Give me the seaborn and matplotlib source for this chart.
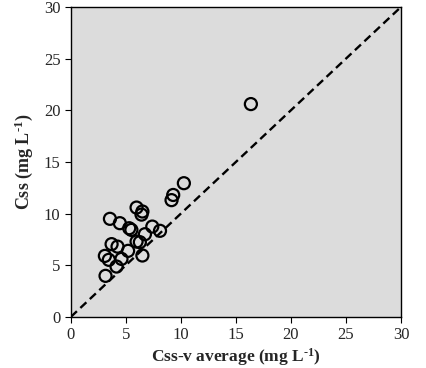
import pandas as pd
import matplotlib
matplotlib.use('Agg')
import matplotlib.pyplot as plt
import seaborn as sb

# Css-v average vs Css (mg/L)
css_v_avg = [16.36, 10.27, 9.3, 9.15, 5.97, 6.5, 6.42, 3.55, 4.45, 5.3, 5.5,
             7.4, 8.1, 6.73, 5.97, 6.27, 3.7, 4.24, 5.2, 3.09, 3.45, 4.6,
             6.5, 4.15, 3.15]
css = [20.6, 12.94, 11.8, 11.3, 10.58, 10.2, 9.9, 9.49, 9.07, 8.58, 8.42,
       8.74, 8.33, 8.0, 7.29, 7.23, 7.04, 6.8, 6.39, 5.9, 5.52, 5.61,
       5.94, 4.87, 3.97]
line_x = [0, 30]
line_y = [0, 30]
ticks = [0, 5, 10, 15, 20, 25, 30]

data = pd.DataFrame({'x': css_v_avg, 'y': css})
line = pd.DataFrame({'x': line_x, 'y': line_y})

sb.set_style("ticks")
plt.rcParams['font.family'] = ['Liberation Serif', 'DejaVu Serif']
plt.rcParams['mathtext.fontset'] = 'custom'
plt.rcParams['mathtext.rm'] = 'Liberation Serif'
plt.rcParams['mathtext.bf'] = 'Liberation Serif:bold'
plt.rcParams['mathtext.default'] = 'bf'

fig = plt.figure(figsize=(4.27, 3.68), dpi=100)
ax = fig.add_axes([0.166, 0.139, 0.773, 0.842])
ax.set_facecolor('#dcdcdc')

sb.lineplot(data=line, x='x', y='y', ax=ax, color='black', linestyle=(0, (3.5, 2)),
            linewidth=1.7)
sb.scatterplot(data=data, x='x', y='y', ax=ax, s=75, facecolor='none',
               edgecolor='black', linewidth=1.6)

ax.set_xlim(0, 30)
ax.set_ylim(0, 30)
ax.set_xticks(ticks)
ax.set_yticks(ticks)
ax.tick_params(axis='both', labelsize=12, direction='out', length=4,
               color='black', top=False, right=False)
for sp in ax.spines.values():
    sp.set_color('black')
    sp.set_linewidth(1.0)

ax.set_xlabel('Css-v average (mg L$^{\\text{-}1}$)', fontsize=12.5, fontweight='bold', labelpad=2)
ax.set_ylabel('Css (mg L$^{\\text{-}1}$)', fontsize=13, fontweight='bold', labelpad=6)

fig.savefig('out.png', dpi=100)
